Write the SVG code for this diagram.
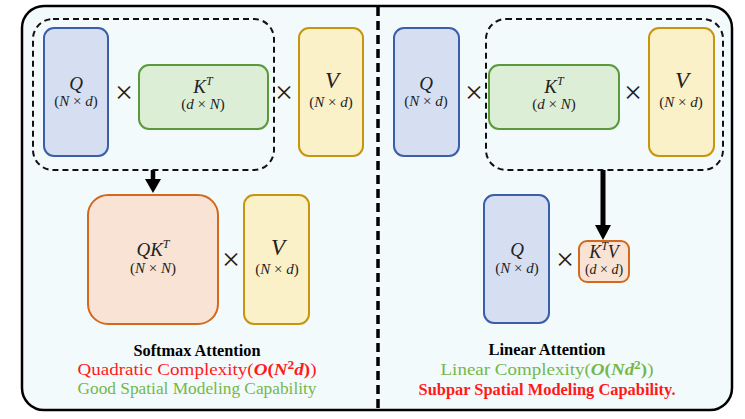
<svg xmlns="http://www.w3.org/2000/svg" width="745" height="419" viewBox="0 0 745 419">
<defs>
<style>
.q{fill:#d6dff2;stroke:#3b5ea8;stroke-width:2}
.k{fill:#dcefd6;stroke:#5b9a3c;stroke-width:2}
.v{fill:#fbf1c9;stroke:#c8960e;stroke-width:2}
.o{fill:#f8e3d4;stroke:#d2691e;stroke-width:2}
.grp{fill:none;stroke:#111;stroke-width:2;stroke-dasharray:6 4}
.m{font-family:"Liberation Serif",serif;font-style:italic;fill:#222;text-anchor:middle}
.sym{font-size:19px}
.dim{font-size:15px}
.big{font-size:23px}
.times{font-family:"Liberation Serif",serif;font-size:32px;fill:#222;text-anchor:middle}
.cap{font-family:"Liberation Serif",serif;font-size:17px;text-anchor:middle}
.b{font-weight:bold}
.bi{font-weight:bold;font-style:italic}
.red{fill:#ff1a1a}
.green{fill:#74b84a}
</style>
</defs>
<rect x="22" y="6" width="710" height="404" rx="22" fill="#f3fafc" stroke="#000" stroke-width="2.5"/>
<line x1="378" y1="7" x2="378" y2="409" stroke="#000" stroke-width="3.5" stroke-dasharray="9 5"/>

<g id="connectors">
<line x1="153" y1="170" x2="153" y2="180" stroke="#000" stroke-width="4.5"/>
<path d="M145,179 L161,179 L153,193 z" fill="#000"/>
<line x1="603" y1="170" x2="603" y2="226" stroke="#000" stroke-width="5"/>
<path d="M595,225 L611,225 L603,240 z" fill="#000"/>
</g>

<g id="left-group"><rect class="grp" x="33" y="19" width="241" height="151" rx="20"/></g>
<g id="left-Q">
<rect class="q" x="44" y="28" width="64" height="128" rx="10"/>
<text class="m sym" x="76" y="90">Q</text>
<text class="m dim" x="76" y="106"><tspan font-style="normal">(</tspan>N <tspan font-style="normal">×</tspan> d<tspan font-style="normal">)</tspan></text>
</g>
<text class="times" x="124" y="103">×</text>
<g id="left-KT">
<rect class="k" x="139" y="65" width="129" height="64" rx="10"/>
<text class="m sym" x="203" y="93">K<tspan font-size="12" dy="-8">T</tspan></text>
<text class="m dim" x="203" y="109"><tspan font-style="normal">(</tspan>d <tspan font-style="normal">×</tspan> N<tspan font-style="normal">)</tspan></text>
</g>
<text class="times" x="284" y="103">×</text>
<g id="left-V">
<rect class="v" x="299" y="28" width="64" height="128" rx="10"/>
<text class="m big" x="332" y="88">V</text>
<text class="m dim" x="331" y="107"><tspan font-style="normal">(</tspan>N <tspan font-style="normal">×</tspan> d<tspan font-style="normal">)</tspan></text>
</g>
<g id="left-QKT">
<rect class="o" x="88" y="195" width="130" height="129" rx="20"/>
<text class="m sym" x="153" y="256">QK<tspan font-size="12" dy="-8">T</tspan></text>
<text class="m dim" x="153" y="273"><tspan font-style="normal">(</tspan>N <tspan font-style="normal">×</tspan> N<tspan font-style="normal">)</tspan></text>
</g>
<text class="times" x="231" y="270">×</text>
<g id="left-V2">
<rect class="v" x="244" y="195" width="65" height="129" rx="10"/>
<text class="m big" x="278" y="255">V</text>
<text class="m dim" x="277" y="274"><tspan font-style="normal">(</tspan>N <tspan font-style="normal">×</tspan> d<tspan font-style="normal">)</tspan></text>
</g>
<g id="left-caption">
<text class="cap b" x="197" y="356" fill="#000" textLength="127" lengthAdjust="spacingAndGlyphs">Softmax Attention</text>
<text class="cap red" x="197" y="375" textLength="239" lengthAdjust="spacingAndGlyphs">Quadratic Complexity(<tspan class="bi">O</tspan><tspan class="b">(</tspan><tspan class="bi">N</tspan><tspan class="b" font-size="12" dy="-6">2</tspan><tspan class="bi" dy="6">d</tspan><tspan class="b">)</tspan>)</text>
<text class="cap green" x="197" y="394" textLength="239" lengthAdjust="spacingAndGlyphs">Good Spatial Modeling Capability</text>
</g>

<g id="right-Q">
<rect class="q" x="394" y="28" width="65" height="128" rx="10"/>
<text class="m sym" x="426" y="90">Q</text>
<text class="m dim" x="426" y="106"><tspan font-style="normal">(</tspan>N <tspan font-style="normal">×</tspan> d<tspan font-style="normal">)</tspan></text>
</g>
<text class="times" x="474" y="103">×</text>
<g id="right-group"><rect class="grp" x="486" y="19" width="237" height="151" rx="20"/></g>
<g id="right-KT">
<rect class="k" x="489" y="65" width="130" height="64" rx="10"/>
<text class="m sym" x="554" y="93">K<tspan font-size="12" dy="-8">T</tspan></text>
<text class="m dim" x="554" y="109"><tspan font-style="normal">(</tspan>d <tspan font-style="normal">×</tspan> N<tspan font-style="normal">)</tspan></text>
</g>
<text class="times" x="633" y="103">×</text>
<g id="right-V">
<rect class="v" x="649" y="28" width="65" height="128" rx="10"/>
<text class="m big" x="682" y="88">V</text>
<text class="m dim" x="681" y="107"><tspan font-style="normal">(</tspan>N <tspan font-style="normal">×</tspan> d<tspan font-style="normal">)</tspan></text>
</g>
<g id="right-Q2">
<rect class="q" x="484" y="195" width="65" height="128" rx="10"/>
<text class="m sym" x="517" y="256">Q</text>
<text class="m dim" x="517" y="273"><tspan font-style="normal">(</tspan>N <tspan font-style="normal">×</tspan> d<tspan font-style="normal">)</tspan></text>
</g>
<text class="times" x="565" y="270">×</text>
<g id="right-KTV">
<rect class="o" x="579" y="241" width="50" height="41" rx="8"/>
<text class="m" font-size="18" x="604" y="258">K<tspan font-size="12" dy="-8">T</tspan><tspan dy="8">V</tspan></text>
<text class="m" font-size="14" x="604" y="274"><tspan font-style="normal">(</tspan>d <tspan font-style="normal">×</tspan> d<tspan font-style="normal">)</tspan></text>
</g>
<g id="right-caption">
<text class="cap b" x="547" y="355" fill="#000" textLength="117" lengthAdjust="spacingAndGlyphs">Linear Attention</text>
<text class="cap green" x="547" y="375" textLength="213" lengthAdjust="spacingAndGlyphs">Linear Complexity(<tspan class="bi">O</tspan><tspan class="b">(</tspan><tspan class="bi">N</tspan><tspan class="bi">d</tspan><tspan class="b" font-size="12" dy="-6">2</tspan><tspan class="b" dy="6">)</tspan>)</text>
<text class="cap red b" x="547" y="395" textLength="257" lengthAdjust="spacingAndGlyphs">Subpar Spatial Modeling Capability.</text>
</g>
</svg>
